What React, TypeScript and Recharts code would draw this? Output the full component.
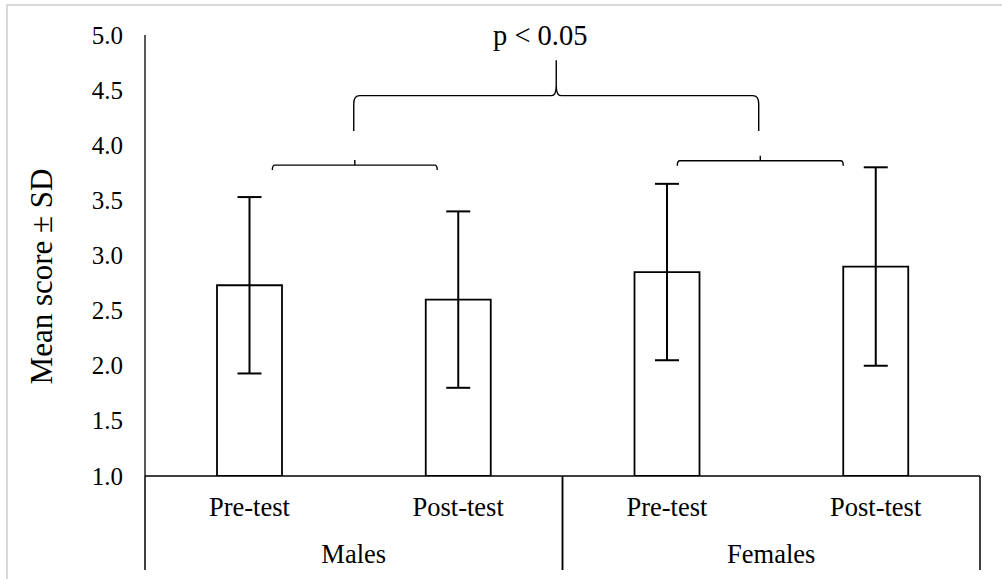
import React from 'react';
import { BarChart, Bar, XAxis, YAxis, ErrorBar, ReferenceLine, Label } from 'recharts';

const groups = ['Males', 'Females'];
const conditions = ['Pre-test', 'Post-test'];
const means = [2.73, 2.6, 2.85, 2.9];
const sds = [0.8, 0.8, 0.8, 0.9];
const yTicks = [1.0, 1.5, 2.0, 2.5, 3.0, 3.5, 4.0, 4.5, 5.0];
const yLabel = 'Mean score \u00b1 SD';
const pLabel = 'p < 0.05';

// annotation anchors: x in category units (0..4), y in score units
const maleBracketX = [0.61, 1.4];
const maleBracketY = 3.82;
const femaleBracketX = [2.55, 3.345];
const femaleBracketY = 3.86;
const braceX = [1.0, 2.94];
const braceY = [4.13, 4.77];

const data = groups.flatMap((g, gi) =>
  conditions.map((c, ci) => ({
    key: `${g}-${c}`,
    pos: gi * conditions.length + ci + 0.5,
    group: g,
    condition: c,
    mean: means[gi * conditions.length + ci],
    sd: sds[gi * conditions.length + ci],
  }))
);
const posTicks = [0, 1, 2, 3, 4];

const W = 1002;
const H = 579;
const MARGIN = { top: 35, right: 22, bottom: 9, left: 0 };
const Y_AXIS_W = 145;
const X_AXIS_H = 94;
const PLOT_W = W - MARGIN.left - MARGIN.right - Y_AXIS_W;
const BAND = PLOT_W / data.length;
const FONT = "'Liberation Serif', 'Times New Roman', serif";

const CategoryTick = (props: any) => {
  const { x, y, index } = props;
  const d = data[index];
  if (!d) return null;
  const half = BAND / 2;
  const pos = index % conditions.length;
  const isFirst = pos === 0;
  const isLast = pos === conditions.length - 1;
  return (
    <g>
      <text x={x} y={y + 31} textAnchor="middle" dominantBaseline="central" style={{ fontSize: 26.5, fontFamily: FONT }} fill="#000">
        {d.condition}
      </text>
      {isFirst && (
        <line x1={x - half} x2={x - half} y1={y} y2={y + X_AXIS_H} stroke="#000" strokeWidth={1.5} />
      )}
      {isLast && (
        <line x1={x + half} x2={x + half} y1={y} y2={y + X_AXIS_H} stroke="#000" strokeWidth={1.5} />
      )}
      {isFirst && (
        <text
          x={x - half + (conditions.length * BAND) / 2}
          y={y + 78}
          textAnchor="middle"
          dominantBaseline="central"
          style={{ fontSize: 26.5, fontFamily: FONT }}
          fill="#000"
        >
          {d.group}
        </text>
      )}
    </g>
  );
};

const ValueTick = (props: any) => {
  const { x, y, payload } = props;
  return (
    <g className="value-tick">
      <text
        x={x}
        y={y}
        textAnchor="end"
        dominantBaseline="central"
        style={{ fontSize: 25, fontFamily: FONT, fontWeight: 'normal' }}
        fill="#000"
      >
        {Number(payload.value).toFixed(1)}
      </text>
    </g>
  );
};

const SmallBracket = (p: any) => {
  const { x1, x2, y1 } = p;
  const l = Math.min(x1, x2);
  const r = Math.max(x1, x2);
  const cx = (l + r) / 2;
  const y = y1;
  const dPath = `M${l},${y + 5} Q${l},${y} ${l + 2.5},${y} L${r - 2.5},${y} Q${r},${y} ${r},${y + 5} M${cx},${y} L${cx},${y - 5}`;
  return <path d={dPath} fill="none" stroke="#000" strokeWidth={1.4} />;
};

const Brace = (p: any) => {
  const { x1, x2, y1, y2 } = p;
  const l = Math.min(x1, x2);
  const r = Math.max(x1, x2);
  const cx = (l + r) / 2;
  const yEnd = Math.max(y1, y2);
  const yPeak = Math.min(y1, y2);
  const yh = (yEnd + yPeak) / 2;
  const rr = 8;
  const dPath =
    `M${l},${yEnd} L${l},${yh + rr} Q${l},${yh} ${l + 6},${yh} L${cx - 5},${yh} Q${cx},${yh} ${cx},${yh - 10} L${cx},${yPeak} ` +
    `M${cx},${yh - 10} Q${cx},${yh} ${cx + 5},${yh} L${r - 6},${yh} Q${r},${yh} ${r},${yh + rr} L${r},${yEnd}`;
  return (
    <g>
      <path d={dPath} fill="none" stroke="#000" strokeWidth={1.4} />
      <text x={cx - 16} y={yPeak - 25} textAnchor="middle" dominantBaseline="central" style={{ fontSize: 28.5, fontFamily: FONT }} fill="#000">
        {pLabel}
      </text>
    </g>
  );
};

const YLabel = (p: any) => {
  const vb = p.viewBox || { x: 0, y: 0, width: 0, height: 0 };
  const cx = vb.x + 41;
  const cy = vb.y + vb.height / 2 + 21;
  return (
    <text
      x={cx}
      y={cy}
      transform={`rotate(-90, ${cx}, ${cy})`}
      textAnchor="middle"
      dominantBaseline="central"
      style={{ fontSize: 31, fontFamily: FONT }}
      fill="#000"
    >
      {yLabel}
    </text>
  );
};

export default function App() {
  return (
    <div style={{ position: 'absolute', left: 0, top: 0, width: W, height: H, overflow: 'hidden', background: '#fff', fontFamily: FONT }}>
      <div
        style={{
          position: 'absolute',
          left: 6,
          top: 4,
          width: W + 20,
          height: H + 20,
          borderLeft: '2px solid #d9d9d9',
          borderTop: '2px solid #d9d9d9',
          boxSizing: 'border-box',
        }}
      />
      <div style={{ position: 'absolute', left: 0, top: 0 }}>
        <BarChart width={W} height={H} data={data} margin={MARGIN} barCategoryGap={0} style={{ fontFamily: FONT }}>
          <XAxis
            dataKey="key"
            interval={0}
            height={X_AXIS_H}
            tickLine={false}
            tickSize={0}
            tickMargin={0}
            axisLine={{ stroke: '#000', strokeWidth: 1.5 }}
            tick={<CategoryTick />}
          />
          <XAxis
            xAxisId="n"
            dataKey="pos"
            type="number"
            domain={[posTicks[0], posTicks[posTicks.length - 1]]}
            ticks={posTicks}
            hide
            allowDataOverflow
            padding={{ left: 0, right: 0 }}
          />
          <YAxis
            domain={[yTicks[0], yTicks[yTicks.length - 1]]}
            ticks={yTicks}
            interval={0}
            allowDataOverflow
            width={Y_AXIS_W}
            tickLine={false}
            tickSize={0}
            tickMargin={22}
            axisLine={{ stroke: '#000', strokeWidth: 1.3 }}
            tick={(p: any) => <ValueTick {...p} />}
          >
            <Label content={<YLabel />} />
          </YAxis>
          <Bar dataKey="mean" fill="#fff" stroke="#000" strokeWidth={1.8} barSize={65} isAnimationActive={false}>
            <ErrorBar dataKey="sd" width={12} stroke="#000" strokeWidth={2} direction="y" />
          </Bar>
          <ReferenceLine
            xAxisId="n"
            segment={[
              { x: maleBracketX[0], y: maleBracketY },
              { x: maleBracketX[1], y: maleBracketY },
            ]}
            shape={SmallBracket}
            ifOverflow="visible"
          />
          <ReferenceLine
            xAxisId="n"
            segment={[
              { x: femaleBracketX[0], y: femaleBracketY },
              { x: femaleBracketX[1], y: femaleBracketY },
            ]}
            shape={SmallBracket}
            ifOverflow="visible"
          />
          <ReferenceLine
            xAxisId="n"
            segment={[
              { x: braceX[0], y: braceY[0] },
              { x: braceX[1], y: braceY[1] },
            ]}
            shape={Brace}
            ifOverflow="visible"
          />
        </BarChart>
      </div>
    </div>
  );
}
